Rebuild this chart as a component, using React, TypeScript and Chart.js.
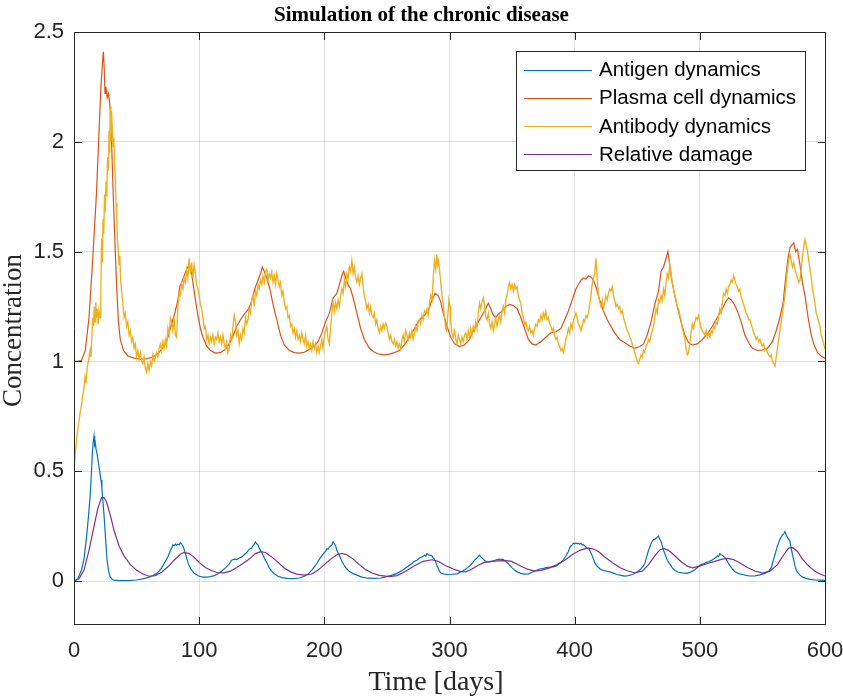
import React, { useEffect, useRef } from 'react';
import { Chart, registerables } from 'chart.js';
Chart.register(...registerables);

const xTicks = [0, 100, 200, 300, 400, 500, 600];
const yTicks = [0, 0.5, 1, 1.5, 2, 2.5];
const seriesNames = ['Antigen dynamics', 'Plasma cell dynamics', 'Antibody dynamics', 'Relative damage'];
const seriesColors = ['#0072BD', '#D95319', '#EDB120', '#7E2F8E'];
const titleText = 'Simulation of the chronic disease';
const xLabel = 'Time [days]';
const yLabel = 'Concentration';

// [day, value]
const antigen: [number, number][] = [
  [0,0],[3,0.01],[6,0.05],[8,0.1],[10,0.2],[11.5,0.29],[12.8,0.38],[14,0.5],[14.6,0.58],[15.3,0.63],[16,0.66],[16.5,0.62],[17,0.63],[17.6,0.6],[18.4,0.58],[19.2,0.55],[20,0.52],[20.8,0.49],[21.6,0.46],[22.3,0.42],[23,0.37],[24,0.3],[24.8,0.23],[25.6,0.16],[26.4,0.096],[27.5,0.05],[28.8,0.02],[30.5,0.008],[32,0.004],[36,0.002],[40,0.002],[45,0.003],[50,0.005],[55,0.01],[60,0.018],[63,0.025],[66,0.035],[68,0.045],[70,0.06],[72,0.08],[74,0.1],[75,0.11],[76,0.125],[77,0.14],[78,0.15],[79,0.165],[80,0.16],[81,0.168],[82,0.163],[83,0.168],[84,0.165],[85,0.176],[86,0.17],[87,0.16],[88,0.145],[89,0.125],[90,0.105],[91,0.085],[92,0.07],[94,0.05],[96,0.035],[100,0.022],[103,0.018],[106,0.018],[109,0.02],[112,0.025],[115,0.033],[118,0.045],[121,0.06],[124,0.078],[126,0.095],[128,0.1],[130,0.098],[132,0.105],[134,0.11],[136,0.12],[138,0.13],[140,0.145],[142,0.15],[143,0.162],[144,0.168],[145,0.178],[146,0.17],[147,0.165],[148,0.15],[150,0.13],[152,0.105],[154,0.085],[156,0.06],[158,0.045],[160,0.033],[163,0.022],[166,0.016],[170,0.012],[175,0.011],[180,0.014],[184,0.022],[187,0.032],[190,0.05],[192,0.065],[194,0.08],[196,0.1],[198,0.115],[200,0.13],[201,0.135],[202,0.148],[203,0.145],[204,0.155],[205,0.16],[206,0.165],[207,0.178],[208,0.17],[209,0.16],[210,0.14],[212,0.115],[214,0.09],[216,0.07],[218,0.055],[220,0.045],[223,0.034],[226,0.027],[230,0.018],[235,0.013],[240,0.012],[245,0.014],[250,0.02],[255,0.028],[258,0.035],[262,0.048],[265,0.06],[268,0.072],[270,0.08],[272,0.09],[274,0.095],[276,0.105],[278,0.11],[280,0.118],[281,0.113],[282,0.125],[283,0.12],[284,0.118],[286,0.115],[287,0.105],[288,0.1],[289,0.085],[290,0.07],[291,0.058],[292,0.045],[293,0.037],[295,0.033],[298,0.03],[302,0.031],[306,0.033],[310,0.045],[313,0.055],[316,0.068],[318,0.08],[320,0.095],[322,0.105],[323,0.112],[324,0.118],[325,0.11],[326,0.105],[327,0.1],[328,0.094],[330,0.088],[332,0.087],[334,0.09],[336,0.093],[338,0.098],[340,0.1],[341,0.097],[342,0.1],[343,0.098],[344,0.094],[346,0.085],[348,0.073],[350,0.06],[352,0.05],[354,0.042],[357,0.035],[360,0.032],[363,0.033],[366,0.04],[369,0.048],[372,0.055],[375,0.058],[378,0.062],[381,0.064],[383,0.065],[385,0.068],[387,0.075],[389,0.085],[391,0.096],[393,0.115],[395,0.135],[396,0.15],[397,0.16],[398,0.165],[399,0.172],[400,0.17],[401,0.174],[402,0.17],[403,0.172],[404,0.168],[405,0.172],[406,0.165],[407,0.166],[408,0.16],[409,0.155],[410,0.148],[411,0.15],[412,0.14],[413,0.128],[414,0.115],[415,0.1],[416,0.085],[418,0.068],[420,0.056],[422,0.05],[425,0.046],[428,0.042],[431,0.036],[434,0.03],[437,0.026],[440,0.023],[443,0.025],[446,0.03],[449,0.038],[452,0.05],[454,0.062],[456,0.08],[457,0.1],[458,0.12],[459,0.14],[460,0.155],[461,0.17],[462,0.18],[463,0.19],[464,0.19],[465,0.195],[466,0.2],[467,0.205],[468,0.19],[469,0.18],[470,0.16],[471,0.14],[472,0.125],[473,0.11],[474,0.095],[476,0.078],[478,0.06],[480,0.048],[483,0.04],[486,0.037],[490,0.035],[493,0.042],[496,0.052],[499,0.066],[501,0.075],[503,0.078],[505,0.085],[507,0.088],[509,0.093],[511,0.1],[513,0.108],[514,0.115],[515,0.112],[516,0.125],[517,0.12],[518,0.118],[519,0.112],[520,0.108],[521,0.1],[522,0.09],[523,0.08],[524,0.07],[526,0.055],[528,0.042],[531,0.034],[534,0.03],[537,0.026],[540,0.023],[544,0.024],[548,0.028],[552,0.035],[555,0.045],[557,0.06],[558,0.08],[559,0.1],[560,0.12],[561,0.14],[562,0.16],[563,0.175],[564,0.19],[565,0.2],[566,0.21],[567,0.215],[568,0.225],[569,0.21],[570,0.2],[571,0.19],[572,0.18],[573,0.15],[574,0.12],[575,0.095],[576,0.07],[577,0.05],[578,0.04],[580,0.027],[582,0.018],[585,0.012],[588,0.008],[592,0.005],[596,0.004],[600,0.003]
];

const plasma: [number, number][] = [
  [0,1],[3,1],[6,1.005],[9,1.05],[12,1.2],[15,1.47],[18,1.77],[20,2.05],[21.5,2.25],[23,2.38],[23.5,2.41],[24,2.35],[24.8,2.22],[25.5,2.25],[26.5,2.2],[27.5,2.22],[28.3,2.19],[29,2.14],[30,2.0],[31,1.82],[32,1.65],[33,1.5],[34,1.35],[35.5,1.18],[37,1.1],[39.5,1.05],[43,1.025],[48,1.015],[53,1.01],[58,1.012],[63,1.02],[67,1.035],[70,1.055],[73,1.08],[75,1.11],[77,1.15],[79,1.19],[81,1.23],[83,1.28],[84.5,1.34],[86,1.36],[88,1.39],[90,1.42],[92,1.44],[93.5,1.42],[95,1.36],[97,1.28],[99,1.21],[101,1.15],[103,1.11],[106,1.07],[109,1.05],[113,1.038],[117,1.04],[121,1.055],[124,1.08],[127,1.115],[130,1.16],[133,1.19],[136,1.215],[139,1.235],[141,1.26],[143,1.3],[145,1.34],[147,1.37],[149,1.4],[150.5,1.43],[152,1.41],[154,1.38],[156.5,1.33],[159,1.26],[162,1.19],[165,1.12],[168,1.075],[172,1.05],[176,1.04],[180,1.038],[184,1.042],[188,1.055],[192,1.07],[195,1.09],[198,1.13],[201,1.18],[204,1.22],[207,1.29],[210,1.31],[212,1.35],[214,1.39],[215.5,1.41],[217,1.38],[219,1.35],[221,1.33],[223,1.29],[226,1.22],[229,1.15],[232,1.1],[236,1.06],[240,1.042],[244,1.033],[248,1.03],[252,1.033],[256,1.04],[260,1.05],[264,1.075],[268,1.11],[272,1.15],[276,1.19],[280,1.21],[283,1.23],[286,1.28],[288.5,1.31],[291,1.3],[293,1.27],[295,1.22],[298,1.16],[301,1.11],[304,1.08],[308,1.068],[312,1.075],[316,1.1],[319,1.14],[322,1.17],[325,1.2],[328,1.23],[331,1.265],[333,1.24],[335,1.21],[337,1.2],[339,1.215],[342,1.23],[345,1.25],[348,1.26],[351,1.255],[354,1.24],[357,1.2],[360,1.15],[363,1.1],[366,1.08],[369,1.075],[373,1.09],[377,1.11],[381,1.13],[385,1.135],[389,1.15],[392,1.19],[395,1.23],[398,1.28],[401,1.33],[403,1.35],[405,1.37],[407,1.38],[409,1.375],[411,1.39],[413,1.385],[415,1.37],[417,1.34],[420,1.28],[423,1.23],[426,1.19],[429,1.16],[432,1.13],[436,1.1],[440,1.085],[444,1.07],[448,1.06],[452,1.068],[455,1.08],[458,1.12],[461,1.18],[464,1.26],[467,1.32],[469,1.41],[471,1.43],[473,1.47],[474.5,1.5],[476,1.44],[477.5,1.37],[480,1.3],[482,1.25],[485,1.18],[488,1.12],[491,1.085],[494,1.075],[498,1.08],[502,1.1],[506,1.125],[510,1.16],[514,1.2],[518,1.24],[521,1.275],[523,1.29],[525,1.28],[527,1.265],[530,1.23],[533,1.18],[536,1.12],[539,1.085],[542,1.06],[546,1.05],[550,1.052],[554,1.06],[558,1.09],[561,1.14],[564,1.2],[566.5,1.265],[568,1.35],[570,1.45],[572,1.52],[573.5,1.53],[575,1.54],[576.5,1.5],[578,1.51],[580,1.44],[582,1.36],[584,1.3],[586.5,1.2],[589,1.12],[591,1.08],[594,1.04],[597,1.025],[600,1.015]
];

const antibody: [number, number][] = [
  [0,0.5],[1,0.58],[2,0.64],[3,0.69],[4,0.73],[5,0.77],[6,0.8],[7,0.85],[8,0.88],[8.8,0.93],[9.5,0.9],[10.5,0.97],[11.5,1.0],[12.8,1.05],[13.5,1.02],[14.3,1.12],[15,1.2],[15.6,1.16],[16.2,1.25],[16.8,1.18],[17.4,1.27],[18,1.2],[18.6,1.24],[19.3,1.17],[20,1.23],[20.8,1.2],[21.4,1.3],[22,1.56],[22.6,1.45],[23.2,1.65],[23.8,1.58],[24.4,1.76],[25,1.68],[25.6,1.82],[26.2,1.75],[26.8,1.93],[27.4,1.87],[28,2.05],[28.5,1.95],[29,2.16],[29.5,2.0],[30,2.14],[30.6,2.06],[31.2,1.98],[31.8,2.02],[32.4,1.9],[33,1.83],[33.6,1.72],[34.2,1.65],[34.8,1.55],[35.4,1.5],[36,1.44],[36.6,1.48],[37.2,1.38],[38,1.32],[38.8,1.28],[39.4,1.24],[40,1.2],[41,1.22],[42,1.16],[43,1.18],[44,1.12],[45,1.14],[46,1.09],[47,1.11],[48,1.06],[49,1.08],[50,1.02],
  [51,1.05],[52,1.01],[53,1.04],[54,1.0],[55,0.99],[56,1.02],[57,0.97],[58,0.95],[59,0.99],[60,0.96],[61,1.0],[62,0.98],[63,1.03],[64,1.0],[65,1.02],[66,1.04],[67,1.02],[68,1.06],[69,1.08],[70,1.05],[71,1.09],[72,1.06],[73,1.1],[74,1.07],[75,1.15],[76,1.12],[77,1.2],[78,1.18],[79,1.14],[80,1.2],[81,1.12],[82,1.11],[83,1.25],[84,1.31],[85,1.3],[86,1.35],[87,1.33],[88,1.38],[89,1.36],[90,1.42],[91,1.38],[92,1.47],[93,1.4],[94,1.45],[95,1.38],[96,1.44],[97,1.4],[98,1.35],[99,1.33],[100,1.3],
  [101,1.26],[102,1.24],[103,1.2],[104,1.15],[105,1.16],[106,1.1],[107,1.12],[108,1.08],[109,1.11],[110,1.09],[111,1.12],[112,1.08],[113,1.11],[114,1.1],[115,1.13],[116,1.09],[117,1.11],[118,1.08],[119,1.12],[120,1.08],[121,1.06],[122,1.09],[123,1.04],[124,1.06],[125,1.12],[126,1.1],[127,1.16],[128,1.21],[129,1.18],[130,1.12],[131,1.14],[132,1.08],[133,1.12],[134,1.1],[135,1.15],[136,1.13],[137,1.2],[138,1.17],[139,1.19],[140,1.24],[141,1.22],[142,1.28],[143,1.3],[144,1.25],[145,1.32],[146,1.3],[147,1.35],[148,1.33],[149,1.37],[150,1.35],
  [151,1.39],[152,1.36],[153,1.41],[154,1.42],[155,1.37],[156,1.4],[157,1.38],[158,1.41],[159,1.36],[160,1.39],[161,1.35],[162,1.4],[163,1.37],[164,1.34],[165,1.36],[166,1.3],[167,1.32],[168,1.27],[169,1.24],[170,1.25],[171,1.2],[172,1.21],[173,1.16],[174,1.17],[175,1.13],[176,1.15],[177,1.11],[178,1.14],[179,1.1],[180,1.12],[181,1.09],[182,1.13],[183,1.1],[184,1.08],[185,1.12],[186,1.07],[187,1.09],[188,1.06],[189,1.08],[190,1.05],[191,1.09],[192,1.06],[193,1.08],[194,1.04],[195,1.07],[196,1.04],[197,1.07],[198,1.1],[199,1.06],[200,1.12],
  [201,1.14],[202,1.16],[203,1.1],[204,1.08],[205,1.15],[206,1.22],[207,1.265],[208,1.23],[209,1.27],[210,1.24],[211,1.28],[212,1.25],[213,1.3],[214,1.33],[215,1.31],[216,1.37],[217,1.34],[218,1.4],[219,1.38],[220,1.43],[221,1.41],[222,1.46],[223,1.4],[224,1.43],[225,1.38],[226,1.36],[227,1.39],[228,1.35],[229,1.38],[230,1.4],[231,1.34],[232,1.3],[233,1.27],[234,1.24],[235,1.26],[236,1.22],[237,1.25],[238,1.21],[239,1.2],[240,1.22],[241,1.17],[242,1.19],[243,1.15],[244,1.13],[245,1.16],[246,1.14],[247,1.17],[248,1.15],[249,1.175],[250,1.16],
  [251,1.13],[252,1.1],[253,1.12],[254,1.09],[255,1.08],[256,1.1],[257,1.07],[258,1.09],[259,1.06],[260,1.08],[261,1.06],[262,1.1],[263,1.12],[264,1.09],[265,1.14],[266,1.12],[267,1.1],[268,1.13],[269,1.11],[270,1.14],[271,1.1],[272,1.13],[273,1.16],[274,1.14],[275,1.18],[276,1.19],[277,1.17],[278,1.21],[279,1.19],[280,1.23],[281,1.22],[282,1.24],[283,1.21],[284,1.26],[285,1.3],[286,1.28],[287,1.38],[288,1.46],[289,1.42],[289.8,1.486],[290.5,1.44],[291,1.46],[292,1.42],[293,1.36],[294,1.3],[295,1.265],[296,1.2],[297,1.15],[297.8,1.14],[298.5,1.2],[299.5,1.28],[300.4,1.25],
  [301,1.18],[302,1.13],[303,1.11],[304,1.14],[305,1.1],[306,1.08],[307,1.12],[308,1.1],[309,1.08],[310,1.11],[311,1.09],[312,1.12],[313,1.13],[314,1.1],[315,1.14],[316,1.11],[317,1.15],[318,1.12],[319,1.16],[320,1.14],[321,1.18],[322,1.15],[323,1.22],[324,1.265],[325,1.24],[326,1.27],[327,1.29],[328,1.26],[329,1.2],[330,1.19],[331,1.22],[332,1.17],[333,1.15],[334,1.18],[335,1.14],[336,1.17],[337,1.2],[338,1.16],[339,1.19],[340,1.21],[341,1.18],[342,1.23],[343,1.25],[344,1.22],[345,1.28],[346,1.3],[347,1.34],[348,1.36],[349,1.33],[350,1.35],
  [351,1.32],[352,1.35],[353,1.33],[354,1.34],[355,1.3],[356,1.28],[357,1.265],[358,1.22],[359,1.2],[360,1.17],[361,1.18],[362,1.15],[363,1.14],[364,1.16],[365,1.13],[366,1.14],[367,1.12],[368,1.15],[369,1.17],[370,1.16],[371,1.19],[372,1.18],[373,1.21],[374,1.19],[375,1.22],[376,1.2],[377,1.23],[378,1.19],[379,1.2],[380,1.17],[381,1.16],[382,1.14],[383,1.15],[384,1.12],[385,1.1],[386,1.11],[387,1.08],[388,1.07],[389,1.05],[390,1.06],[391,1.04],[392,1.07],[393,1.1],[394,1.12],[395,1.15],[396,1.13],[397,1.17],[398,1.15],[399,1.19],[400,1.2],
  [401,1.22],[402,1.2],[403,1.17],[404,1.16],[405,1.14],[406,1.16],[407,1.19],[408,1.18],[409,1.21],[410,1.2],[411,1.22],[412,1.26],[413,1.3],[414,1.35],[415,1.38],[416,1.4],[417,1.47],[418,1.38],[419,1.3],[420,1.27],[421,1.25],[422,1.28],[423,1.24],[424,1.27],[425,1.3],[426,1.28],[427,1.31],[428,1.33],[429,1.32],[430,1.34],[431,1.3],[432,1.28],[433,1.25],[434,1.26],[435,1.24],[436,1.25],[437,1.22],[438,1.23],[439,1.2],[440,1.18],[441,1.16],[442,1.14],[443,1.13],[444,1.11],[445,1.1],[446,1.08],[447,1.06],[448,1.04],[449,1.02],[450,1.0],
  [451,0.99],[452,1.01],[453,1.03],[454,1.02],[455,1.05],[456,1.04],[457,1.07],[458,1.08],[459,1.1],[460,1.09],[461,1.12],[462,1.14],[463,1.16],[464,1.2],[465,1.24],[466,1.22],[467,1.28],[468,1.27],[469,1.3],[470,1.28],[471,1.33],[472,1.3],[473,1.36],[474,1.4],[475,1.38],[476,1.44],[477,1.4],[478,1.36],[479,1.33],[480,1.3],[481,1.28],[482,1.25],[483,1.24],[484,1.21],[485,1.19],[486,1.15],[487,1.13],[488,1.1],[489,1.06],[490,1.03],[491,1.04],[492,1.08],[493,1.13],[494,1.17],[495,1.15],[496,1.18],[497,1.2],[498,1.19],[499,1.21],[500,1.18],
  [501,1.15],[502,1.14],[503,1.13],[504,1.12],[505,1.14],[506,1.11],[507,1.13],[508,1.11],[509,1.14],[510,1.13],[511,1.16],[512,1.15],[513,1.18],[514,1.17],[515,1.21],[516,1.24],[517,1.22],[518,1.27],[519,1.31],[520,1.3],[521,1.33],[522,1.31],[523,1.34],[524,1.35],[525,1.37],[526,1.36],[527,1.39],[528,1.37],[529,1.35],[530,1.34],[531,1.32],[532,1.33],[533,1.29],[534,1.28],[535,1.26],[536,1.24],[537,1.22],[538,1.21],[539,1.19],[540,1.19],[541,1.17],[542,1.15],[543,1.13],[544,1.12],[545,1.1],[546,1.11],[547,1.09],[548,1.1],[549,1.08],[550,1.07],
  [551,1.08],[552,1.05],[553,1.06],[554,1.04],[555,1.03],[556,1.02],[557,1.03],[558,1.0],[559,0.99],[560,0.98],[561,1.02],[562,1.06],[563,1.1],[564,1.14],[565,1.18],[566,1.22],[567,1.26],[568,1.3],[569,1.36],[570,1.42],[571,1.46],[572,1.49],[573,1.46],[574,1.43],[575,1.45],[576,1.42],[577,1.4],[578,1.38],[579,1.36],[580,1.37],[581,1.42],[582,1.48],[583,1.52],[584,1.555],[585,1.53],[586,1.5],[587,1.46],[588,1.42],[589,1.38],[590,1.33],[591,1.3],[592,1.265],[593,1.22],[594,1.2],[595,1.18],[596,1.16],[597,1.12],[598,1.1],[599,1.08],[600,1.055]
];

const damage: [number, number][] = [
  [0,0],[4,0.01],[8,0.05],[12,0.14],[16,0.25],[19,0.33],[22,0.38],[24,0.38],[26,0.36],[29,0.3],[32,0.23],[36,0.16],[40,0.115],[45,0.075],[50,0.05],[55,0.032],[60,0.022],[65,0.025],[70,0.04],[75,0.065],[80,0.095],[85,0.122],[88,0.131],[92,0.125],[96,0.108],[100,0.085],[105,0.062],[110,0.047],[115,0.038],[120,0.037],[125,0.045],[130,0.062],[135,0.08],[140,0.1],[145,0.125],[149,0.134],[153,0.13],[158,0.11],[163,0.085],[168,0.06],[173,0.042],[178,0.032],[184,0.027],[190,0.032],[195,0.05],[200,0.075],[205,0.1],[210,0.12],[214,0.126],[218,0.12],[223,0.1],[228,0.075],[233,0.052],[238,0.037],[244,0.026],[252,0.02],[258,0.025],[265,0.045],[272,0.07],[279,0.09],[286,0.097],[291,0.09],[297,0.07],[303,0.055],[309,0.043],[313,0.042],[318,0.055],[323,0.072],[328,0.085],[333,0.09],[338,0.092],[344,0.093],[349,0.091],[353,0.08],[358,0.065],[363,0.053],[368,0.045],[374,0.05],[380,0.06],[386,0.075],[392,0.095],[398,0.12],[404,0.14],[410,0.15],[414,0.148],[419,0.135],[424,0.11],[430,0.085],[436,0.062],[442,0.047],[448,0.038],[454,0.045],[459,0.075],[464,0.115],[468,0.142],[471,0.149],[475,0.14],[480,0.115],[485,0.088],[490,0.068],[494,0.06],[500,0.068],[506,0.08],[512,0.09],[518,0.1],[522,0.103],[527,0.098],[532,0.082],[538,0.062],[544,0.046],[550,0.036],[556,0.045],[562,0.075],[567,0.12],[571,0.15],[574,0.153],[578,0.135],[582,0.1],[587,0.068],[592,0.045],[596,0.032],[600,0.023]
];

const AXIS = '#262626';
const GRID = 'rgba(38,38,38,0.15)';

const framePlugin = {
  id: 'matlabFrame',
  afterDatasetsDraw(chart: any) {
    const { ctx, chartArea } = chart;
    const xs = chart.scales.x;
    const ys = chart.scales.y;
    const L = Math.round(chartArea.left) + 0.5;
    const R = Math.round(chartArea.right) + 0.5;
    const T = Math.round(chartArea.top) + 0.5;
    const B = Math.round(chartArea.bottom) - 0.5;
    const tl = 7.5;
    ctx.save();
    ctx.strokeStyle = AXIS;
    ctx.lineWidth = 1;
    ctx.beginPath();
    ctx.rect(L, T, R - L, B - T);
    ctx.stroke();
    ctx.beginPath();
    xTicks.forEach((v) => {
      const p = Math.round(xs.getPixelForValue(v)) + 0.5;
      ctx.moveTo(p, B); ctx.lineTo(p, B - tl);
      ctx.moveTo(p, T); ctx.lineTo(p, T + tl);
    });
    yTicks.forEach((v) => {
      const p = Math.round(ys.getPixelForValue(v)) + 0.5;
      ctx.moveTo(L, p); ctx.lineTo(L + tl, p);
      ctx.moveTo(R, p); ctx.lineTo(R - tl, p);
    });
    ctx.stroke();
    ctx.restore();
  },
};

const textPlugin = {
  id: 'matlabText',
  afterDraw(chart: any) {
    const { ctx, chartArea } = chart;
    ctx.save();
    ctx.fillStyle = '#000';
    ctx.font = 'bold 21px "Liberation Serif"';
    ctx.textAlign = 'center';
    ctx.textBaseline = 'alphabetic';
    ctx.fillText(titleText, 421.5, 21);
    ctx.fillStyle = AXIS;
    ctx.font = '28px "Liberation Serif"';
    ctx.fillText(xLabel, 436, 690);
    ctx.font = '27px "Liberation Serif"';
    ctx.translate(14, (chartArea.top + chartArea.bottom) / 2 + 2);
    ctx.rotate(-Math.PI / 2);
    ctx.textBaseline = 'middle';
    ctx.fillText(yLabel, 0, 0);
    ctx.restore();

    // legend
    const bx = 516.5, by = 51.5, bw = 289, bh = 119;
    ctx.save();
    ctx.fillStyle = '#fff';
    ctx.fillRect(bx, by, bw, bh);
    ctx.strokeStyle = AXIS;
    ctx.lineWidth = 1;
    ctx.strokeRect(bx, by, bw, bh);
    ctx.font = '20.5px "Liberation Sans"';
    ctx.textAlign = 'left';
    ctx.textBaseline = 'middle';
    chart.data.datasets.forEach((ds: any, i: number) => {
      const cy = 69.5 + i * 28.2;
      ctx.strokeStyle = ds.borderColor;
      ctx.lineWidth = 1;
      ctx.beginPath();
      ctx.moveTo(524, Math.round(cy) + 0.5);
      ctx.lineTo(592, Math.round(cy) + 0.5);
      ctx.stroke();
      ctx.fillStyle = '#000';
      ctx.fillText(ds.label, 599, cy + 1);
    });
    ctx.restore();
  },
};

export default function App() {
  const ref = useRef<HTMLCanvasElement>(null);
  useEffect(() => {
    document.body.style.margin = '0';
    const canvas = ref.current;
    if (!canvas) return;
    const series = [antigen, plasma, antibody, damage];
    const widths = [1.2, 1.2, 1.35, 1.2];
    const tickFont = { family: '"Liberation Sans", Arial, sans-serif', size: 22 };
    const chart = new Chart(canvas, {
      type: 'line',
      data: {
        datasets: series.map((s, i) => ({
          label: seriesNames[i],
          data: s.map(([x, y]) => ({ x, y })),
          borderColor: seriesColors[i],
          backgroundColor: seriesColors[i],
          borderWidth: widths[i],
          pointRadius: 0,
          tension: 0,
          fill: false,
          order: series.length - i,
        })),
      },
      options: {
        responsive: false,
        animation: false,
        devicePixelRatio: 1,
        events: [],
        layout: { padding: { top: 32, right: 18, left: 0, bottom: 0 } },
        plugins: { legend: { display: false }, title: { display: false }, tooltip: { enabled: false } },
        scales: {
          x: {
            type: 'linear',
            min: 0,
            max: 600,
            afterBuildTicks: (s: any) => { s.ticks = xTicks.map((v) => ({ value: v })); },
            afterFit: (s: any) => { s.height = 71; s.paddingLeft = 0; s.paddingRight = 0; },
            grid: { color: GRID, drawTicks: false, lineWidth: 1 },
            border: { display: false },
            ticks: { color: AXIS, font: tickFont, padding: 13, maxRotation: 0, autoSkip: false, callback: (v: any) => String(v) },
          },
          y: {
            type: 'linear',
            min: -0.2,
            max: 2.5,
            afterBuildTicks: (s: any) => { s.ticks = yTicks.map((v) => ({ value: v })); },
            afterFit: (s: any) => { s.width = 74; s.paddingTop = 0; s.paddingBottom = 0; },
            grid: { color: GRID, drawTicks: false, lineWidth: 1 },
            border: { display: false },
            ticks: { color: AXIS, font: tickFont, padding: 10, autoSkip: false, callback: (v: any) => String(v) },
          },
        },
      } as any,
      plugins: [framePlugin, textPlugin],
    });
    return () => chart.destroy();
  }, []);
  return <canvas ref={ref} width={843} height={696} style={{ display: 'block' }} />;
}
